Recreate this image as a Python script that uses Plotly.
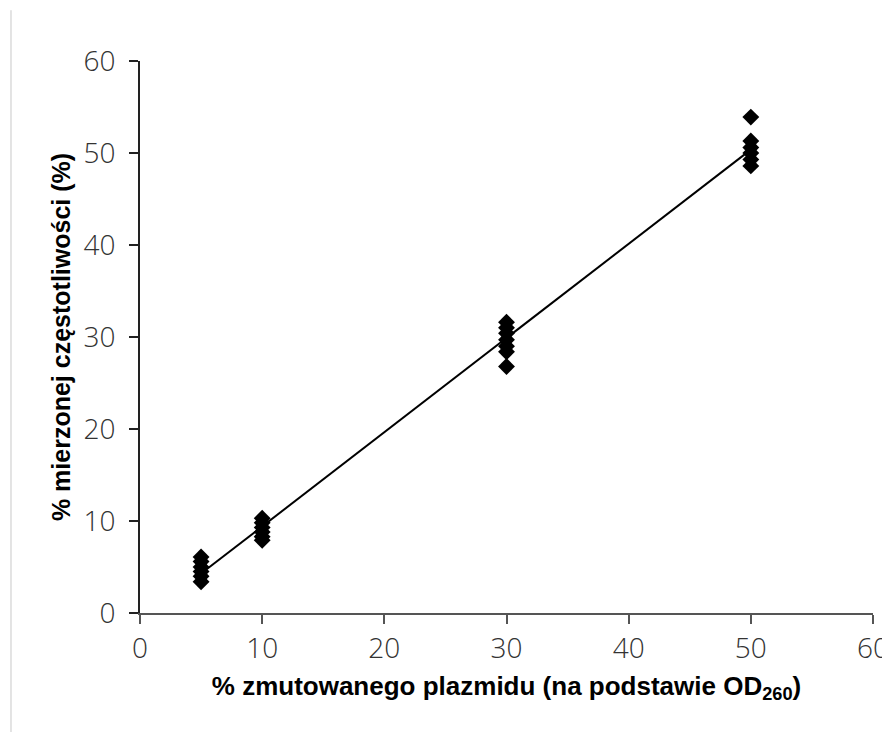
import numpy as np
import plotly.graph_objects as go

# Data
x_5 = [5, 5, 5, 5, 5, 5]
y_5 = [6.1, 5.6, 5.0, 4.5, 4.0, 3.4]
x_10 = [10, 10, 10, 10, 10, 10]
y_10 = [10.3, 9.8, 9.3, 8.8, 8.3, 7.9]
x_30 = [30, 30, 30, 30, 30, 30, 30]
y_30 = [31.6, 31.0, 30.4, 29.7, 29.0, 28.4, 26.8]
x_50 = [50, 50, 50, 50, 50, 50]
y_50 = [53.9, 51.3, 50.6, 50.0, 49.3, 48.6]

xs = x_5 + x_10 + x_30 + x_50
ys = y_5 + y_10 + y_30 + y_50

fit_x = [5, 50]
slope, intercept = np.polyfit(xs, ys, 1)
fit_y = [slope * v + intercept for v in fit_x]

tick_vals = [0, 10, 20, 30, 40, 50, 60]
tick_text = ["0", "10", "20", "30", "40", "50", "60"]

fig = go.Figure()
fig.add_trace(go.Scatter(x=fit_x, y=fit_y, mode="lines",
                         line=dict(color="black", width=2), showlegend=False))
fig.add_trace(go.Scatter(x=xs, y=ys, mode="markers",
                         marker=dict(symbol="diamond", size=13, color="black"),
                         showlegend=False))

tickfont = dict(family="Open Sans, Lato, sans-serif", size=28, color="#333333", weight=300)
titlefont = dict(family="Liberation Sans, Arial", color="black", weight="bold")

fig.update_layout(
    width=890, height=724,
    margin=dict(l=132, r=25, t=53, b=119, autoexpand=False),
    plot_bgcolor="white", paper_bgcolor="white",
    xaxis=dict(range=[0, 60], tickvals=tick_vals, ticktext=tick_text,
               automargin=False,
               showgrid=False, zeroline=False, showline=True,
               linecolor="#555555", linewidth=2,
               ticks="outside", ticklen=9, tickwidth=1.5, tickcolor="#555555",
               tickfont=tickfont, ticklabelstandoff=0,
               title=dict(text="% zmutowanego plazmidu (na podstawie OD<sub>260</sub>)",
                          font=dict(size=26, **titlefont), standoff=12)),
    yaxis=dict(range=[0, 60], tickvals=tick_vals, ticktext=tick_text,
               automargin=False,
               showgrid=False, zeroline=False, showline=True,
               linecolor="#222222", linewidth=2,
               ticks="outside", ticklen=9, tickwidth=1.5, tickcolor="#222222",
               tickfont=tickfont, ticklabelstandoff=8,
               title=dict(text="% mierzonej częstotliwości (%)",
                          font=dict(size=25, **titlefont), standoff=6)),
    shapes=[dict(type="line", xref="paper", yref="paper",
                 x0=-0.176, x1=-0.176, y0=-0.216, y1=1.092,
                 line=dict(color="#c8c8c8", width=1))],
)

fig.write_html("out.html")
